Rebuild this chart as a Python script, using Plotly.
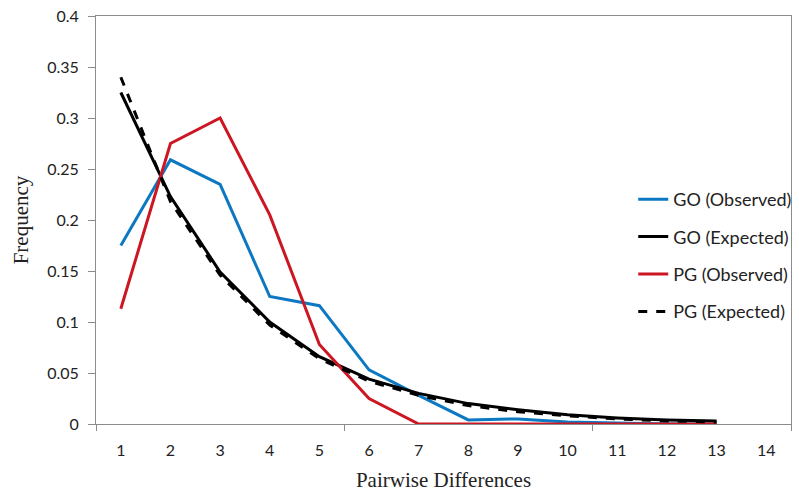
import plotly.graph_objects as go

x_vals = [1, 2, 3, 4, 5, 6, 7, 8, 9, 10, 11, 12, 13]
go_observed = [0.175, 0.259, 0.235, 0.125, 0.116, 0.053, 0.028, 0.004, 0.005, 0.002, 0.001, 0.0, 0.0]
go_expected = [0.325, 0.223, 0.149, 0.100, 0.066, 0.044, 0.030, 0.020, 0.014, 0.009, 0.006, 0.004, 0.003]
pg_observed = [0.113, 0.275, 0.300, 0.205, 0.078, 0.025, 0.0, 0.0, 0.0, 0.0, 0.0, 0.0, 0.0]
pg_expected = [0.340, 0.218, 0.146, 0.097, 0.064, 0.042, 0.028, 0.018, 0.012, 0.008, 0.005, 0.003, 0.002]
x_tick_labels = [str(i) for i in range(1, 15)]
y_ticks = [0, 0.05, 0.1, 0.15, 0.2, 0.25, 0.3, 0.35, 0.4]
y_tick_text = ["0", "0.05", "0.1", "0.15", "0.2", "0.25", "0.3", "0.35", "0.4"]

BLUE = "#0C78C2"
RED = "#CC1722"
SERIF = "Liberation Serif, Times New Roman, serif"

fig = go.Figure()
fig.add_trace(go.Scatter(x=x_vals, y=go_observed, mode="lines", name="GO (Observed)",
                         legendgroup="a", line=dict(color=BLUE, width=3)))
fig.add_trace(go.Scatter(x=x_vals, y=go_expected, mode="lines", name="GO (Expected)",
                         legendgroup="b", line=dict(color="black", width=3)))
fig.add_trace(go.Scatter(x=x_vals, y=pg_observed, mode="lines", name="PG (Observed)",
                         legendgroup="c", line=dict(color=RED, width=3)))
fig.add_trace(go.Scatter(x=x_vals, y=pg_expected, mode="lines", name="PG (Expected)",
                         legendgroup="d", line=dict(color="black", width=3, dash="dash")))

fig.update_layout(
    width=799, height=495,
    margin=dict(l=96, r=2, t=16, b=71),
    paper_bgcolor="white", plot_bgcolor="white",
    font=dict(family="Lato, Liberation Sans, sans-serif", size=16, color="#222"),
    showlegend=True,
    legend=dict(x=0.773, y=0.413, xanchor="left", yanchor="middle",
                bgcolor="rgba(0,0,0,0)", font=dict(size=18),
                tracegroupgap=11),
)
fig.update_xaxes(
    range=[0.5, 14.5], automargin=False,
    tickmode="array", tickvals=list(range(1, 15)), ticktext=x_tick_labels,
    ticks="", showgrid=False, zeroline=False, ticklabelstandoff=12,
    ticklabeloverflow="allow",
    showline=True, linecolor="#8c8c8c", linewidth=1, mirror=True,
    minor=dict(tickmode="array", tickvals=[0.5, 5.5, 10.5, 14.5], ticks="outside",
               ticklen=6, tickcolor="#8c8c8c", showgrid=False),
    title=dict(text="Pairwise Differences", standoff=14,
               font=dict(family=SERIF, size=21, color="#222")),
)
fig.update_yaxes(
    range=[0, 0.4], automargin=False,
    tickmode="array", tickvals=y_ticks, ticktext=y_tick_text,
    ticks="outside", ticklen=7, tickcolor="#8c8c8c", ticklabelstandoff=6,
    ticklabeloverflow="allow",
    showgrid=False, zeroline=False,
    showline=True, linecolor="#8c8c8c", linewidth=1, mirror=True,
    title=dict(text="Frequency", standoff=12,
               font=dict(family=SERIF, size=21, color="#222")),
)

fig.write_html("out.html",
               config={"displayModeBar": False},
               post_script="document.body.style.margin='0';document.body.style.overflow='hidden';")
